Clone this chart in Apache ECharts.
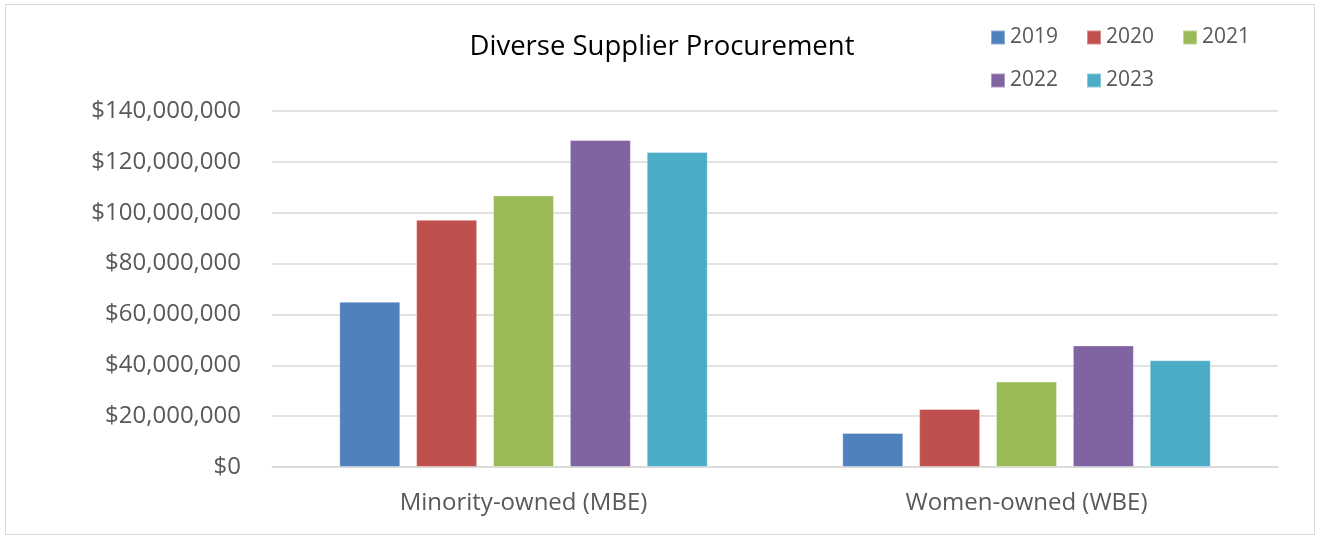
<!DOCTYPE html>
<html>
<head>
<meta charset="utf-8">
<script src="https://cdn.jsdelivr.net/npm/echarts@6/dist/echarts.min.js"></script>
<style>
html,body{margin:0;padding:0;background:#fff;}
#wrap{position:absolute;left:5px;top:4px;width:1310px;height:531px;border:1px solid #d9d9d9;box-sizing:border-box;}
#chart{position:absolute;left:0;top:0;width:1322px;height:539px;}
</style>
</head>
<body>
<div id="wrap"></div>
<div id="chart"></div>
<script>
const categories = ['Minority-owned (MBE)', 'Women-owned (WBE)'];
const years = ['2019', '2020', '2021', '2022', '2023'];
const v2019 = [65000000, 13400000];
const v2020 = [97200000, 22800000];
const v2021 = [106800000, 33600000];
const v2022 = [128600000, 47800000];
const v2023 = [123900000, 42000000];
const colors = ['#4F81BD', '#C0504D', '#9BBB59', '#8064A2', '#4BACC6'];
const seriesValues = [v2019, v2020, v2021, v2022, v2023];

const FONT = 'Open Sans';
const chart = echarts.init(document.getElementById('chart'));

function fmt(v) {
  return '$' + Math.round(v).toString().replace(/\B(?=(\d{3})+(?!\d))/g, ',');
}

const legendText = {color: '#595959', fontSize: 21, fontFamily: FONT};
chart.setOption({
  animation: false,
  color: colors,
  title: {
    text: 'Diverse Supplier Procurement',
    left: 662, top: 33, textAlign: 'center', padding: 0,
    textStyle: {color: '#000', fontSize: 27.5, fontWeight: 'normal', fontFamily: FONT}
  },
  legend: [
    {data: years.slice(0, 3), left: 990, top: 27, itemWidth: 14, itemHeight: 14, itemGap: 28, padding: 0,
     icon: 'rect', textStyle: legendText},
    {data: years.slice(3), left: 990, top: 70, itemWidth: 14, itemHeight: 14, itemGap: 28, padding: 0,
     icon: 'rect', textStyle: legendText}
  ],
  grid: {left: 272, right: 44, top: 111, bottom: 72, containLabel: false},
  xAxis: {
    type: 'category', data: categories,
    axisLine: {show: true, lineStyle: {color: '#d9d9d9', width: 1.5}},
    axisTick: {show: false},
    axisLabel: {color: '#595959', fontSize: 24, fontFamily: FONT, margin: 24}
  },
  yAxis: {
    type: 'value', min: 0, max: 140000000, interval: 20000000,
    axisLine: {show: false}, axisTick: {show: false},
    splitLine: {lineStyle: {color: '#d9d9d9', width: 1.5}},
    axisLabel: {color: '#595959', fontSize: 24, fontFamily: FONT, margin: 31, formatter: fmt}
  },
  series: years.map((y, i) => ({
    name: y, type: 'bar', data: seriesValues[i],
    barWidth: 61, barGap: '26%',
    itemStyle: {color: colors[i], borderColor: 'rgba(255,255,255,0.35)', borderWidth: 1}
  }))
});
</script>
</body>
</html>
